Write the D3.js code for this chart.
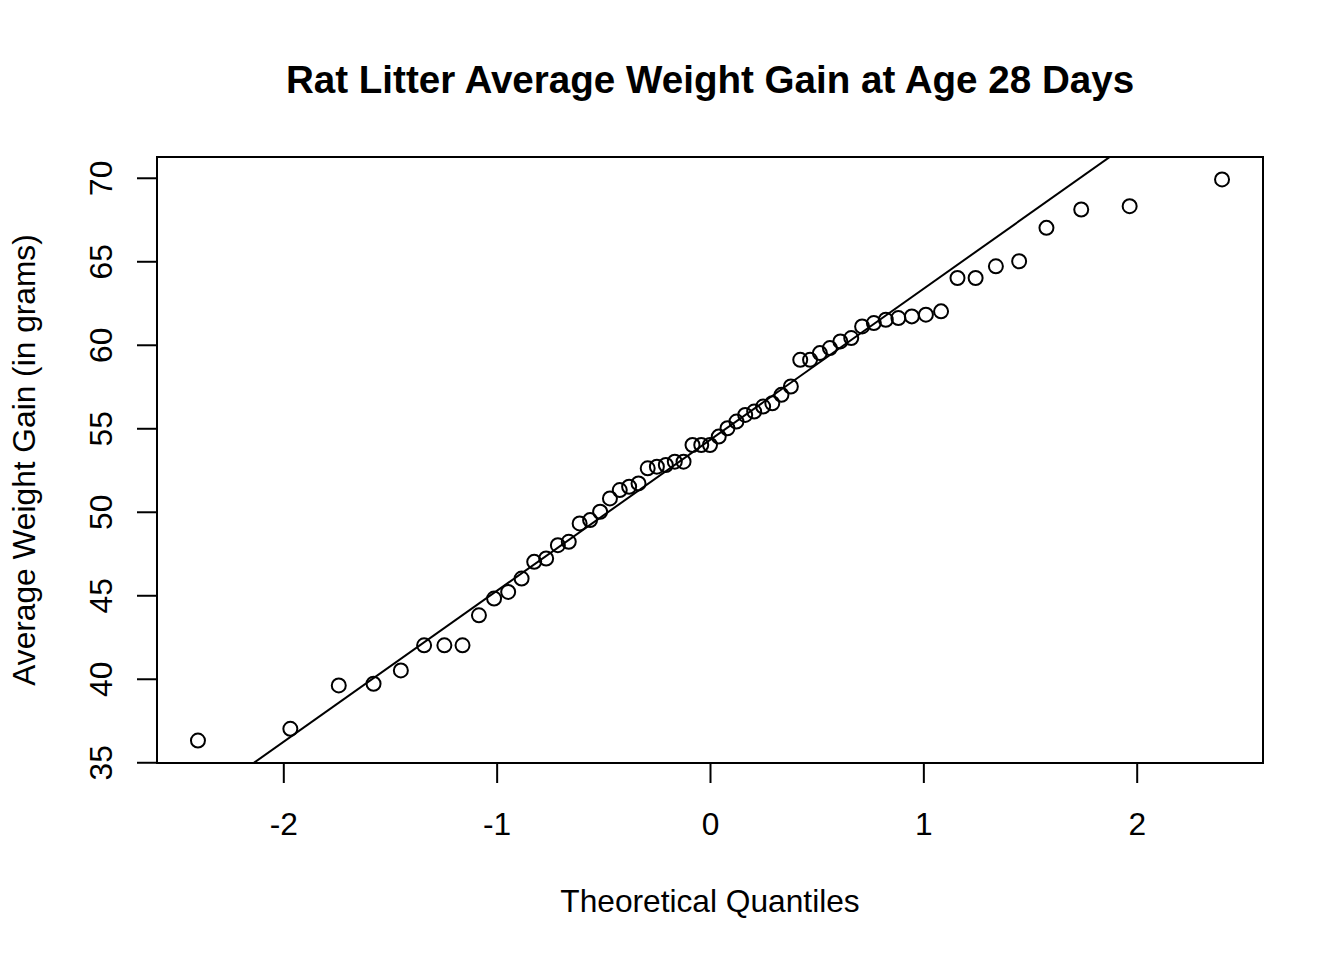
<!DOCTYPE html>
<html>
<head>
<meta charset="utf-8">
<script src="https://cdn.jsdelivr.net/npm/d3@7"></script>
<style>
  html, body { margin: 0; padding: 0; background: #ffffff; }
  svg { display: block; }
  text { font-family: "Liberation Sans", Arial, Helvetica, sans-serif; fill: #000; }
</style>
</head>
<body>
<script>
// Theoretical normal quantiles (n = 61), as placed in the picture
const theoreticalQuantiles = [
  -2.400, -1.967, -1.740, -1.577, -1.449, -1.340, -1.245, -1.160, -1.083, -1.012,
  -0.946, -0.883, -0.824, -0.768, -0.713, -0.662, -0.611, -0.562, -0.515, -0.469,
  -0.423, -0.379, -0.335, -0.292, -0.249, -0.207, -0.165, -0.124, -0.082, -0.041,
   0.000,
   0.041,  0.082,  0.124,  0.165,  0.207,  0.249,  0.292,  0.335,  0.379,  0.423,
   0.469,  0.515,  0.562,  0.611,  0.662,  0.713,  0.768,  0.824,  0.883,  0.946,
   1.012,  1.083,  1.160,  1.245,  1.340,  1.449,  1.577,  1.740,  1.967,  2.400
];
// Sorted sample: average weight gain (grams)
const weightGain = [
  36.3, 37.0, 39.6, 39.7, 40.5, 42.0, 42.0, 42.0, 43.8, 44.8,
  45.2, 46.0, 47.0, 47.2, 48.0, 48.2, 49.3, 49.5, 50.0, 50.8,
  51.3, 51.5, 51.7, 52.6, 52.7, 52.8, 53.0, 53.0, 54.0, 54.0,
  54.0, 54.5, 55.0, 55.4, 55.8, 56.0, 56.3, 56.5, 57.0, 57.5,
  59.1, 59.1, 59.5, 59.8, 60.2, 60.4, 61.1, 61.3, 61.5, 61.6,
  61.7, 61.8, 62.0, 64.0, 64.0, 64.7, 65.0, 67.0, 68.1, 68.3,
  69.9
];
const xTicks = [-2, -1, 0, 1, 2];
const yTicks = [35, 40, 45, 50, 55, 60, 65, 70];
const titleText = "Rat Litter Average Weight Gain at Age 28 Days";
const xLabelText = "Theoretical Quantiles";
const yLabelText = "Average Weight Gain (in grams)";

const W = 1344, H = 960;
const pL = 157, pR = 1263, pT = 157, pB = 763;
const fs = 31.7;

const svg = d3.select("body").append("svg").attr("width", W).attr("height", H);

function padded(ext) {
  const d = (ext[1] - ext[0]) * 0.04;
  return [ext[0] - d, ext[1] + d];
}
const x = d3.scaleLinear().domain(padded(d3.extent(theoreticalQuantiles))).range([pL, pR]);
const y = d3.scaleLinear().domain(padded(d3.extent(weightGain))).range([pB, pT]);

// clip for the reference line
svg.append("defs").append("clipPath").attr("id", "plotclip")
  .append("rect").attr("x", pL).attr("y", pT).attr("width", pR - pL).attr("height", pB - pT);

// qqline through the first and third quartiles
const q1 = d3.quantile(weightGain, 0.25), q3 = d3.quantile(weightGain, 0.75);
const z1 = -0.6744898, z3 = 0.6744898;
const slope = (q3 - q1) / (z3 - z1);
const intercept = q1 - slope * z1;
const xd = x.domain();
svg.append("line")
  .attr("clip-path", "url(#plotclip)")
  .attr("x1", x(xd[0])).attr("y1", y(intercept + slope * xd[0]))
  .attr("x2", x(xd[1])).attr("y2", y(intercept + slope * xd[1]))
  .attr("stroke", "#000").attr("stroke-width", 2);

// points
svg.append("g").selectAll("circle")
  .data(theoreticalQuantiles.map((q, i) => [q, weightGain[i]]))
  .join("circle")
  .attr("cx", d => x(d[0])).attr("cy", d => y(d[1]))
  .attr("r", 7)
  .attr("fill", "none").attr("stroke", "#000").attr("stroke-width", 2);

// box
svg.append("rect").attr("x", pL).attr("y", pT)
  .attr("width", pR - pL).attr("height", pB - pT)
  .attr("fill", "none").attr("stroke", "#000").attr("stroke-width", 2);

// x axis
const xAxis = d3.axisBottom(x).tickValues(xTicks).tickSize(20).tickPadding(0).tickFormat(d3.format("d"));
const gx = svg.append("g").attr("transform", `translate(0,${pB})`).call(xAxis);
gx.select(".domain").attr("d", `M${x(xTicks[0])},0H${x(xTicks[xTicks.length-1])}`).attr("stroke-width", 2);
gx.selectAll(".tick line").attr("stroke-width", 2);
gx.selectAll(".tick text")
  .attr("y", 835 - pB).attr("dy", null)
  .style("font-size", fs + "px").style("font-family", "'Liberation Sans', Arial, sans-serif")
  .text(d => d < 0 ? "-" + Math.abs(d) : d);

// y axis
const yAxis = d3.axisLeft(y).tickValues(yTicks).tickSize(20).tickPadding(0).tickFormat(d3.format("d"));
const gy = svg.append("g").attr("transform", `translate(${pL},0)`).call(yAxis);
gy.select(".domain").attr("d", `M0,${y(yTicks[0])}V${y(yTicks[yTicks.length-1])}`).attr("stroke-width", 2);
gy.selectAll(".tick line").attr("stroke-width", 2);
gy.selectAll(".tick text")
  .attr("x", null).attr("dy", null)
  .attr("text-anchor", "middle")
  .attr("transform", `translate(${112 - pL},0) rotate(-90)`)
  .style("font-size", fs + "px").style("font-family", "'Liberation Sans', Arial, sans-serif");

// title
svg.append("text").attr("x", (pL + pR) / 2).attr("y", 93)
  .attr("text-anchor", "middle").style("font-size", "38.6px").style("font-weight", "bold")
  .text(titleText);

// axis titles
svg.append("text").attr("x", (pL + pR) / 2).attr("y", 912)
  .attr("text-anchor", "middle").style("font-size", fs + "px")
  .text(xLabelText);
svg.append("text")
  .attr("transform", `translate(35,${(pT + pB) / 2}) rotate(-90)`)
  .attr("text-anchor", "middle").style("font-size", fs + "px")
  .text(yLabelText);
</script>
</body>
</html>
